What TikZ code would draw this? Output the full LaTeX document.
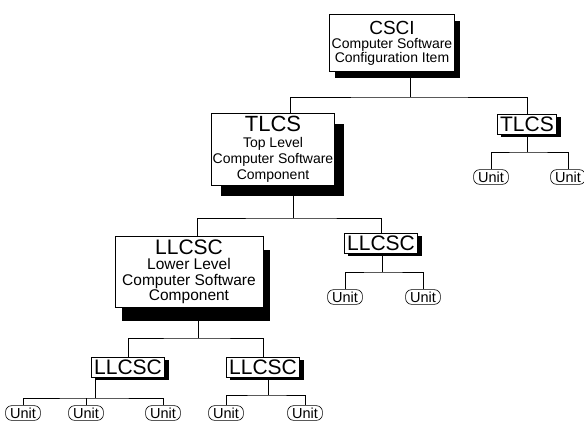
\documentclass[tikz,border=0pt]{standalone}
\usepackage{fontspec}
\setmainfont{Liberation Sans}
\usetikzlibrary{shadows, positioning}

\begin{document}
\begin{tikzpicture}[x=1pt, y=-1pt,
  box/.style={draw, line width=0.8pt, fill=white, align=center, inner sep=1pt},
  shadowed/.style 2 args={drop shadow={shadow xshift=#1, shadow yshift=#2, fill=black, opacity=1}},
  tagbox/.style={box, font=\fontsize{21}{21}\selectfont, inner xsep=3pt, inner ysep=2.5pt, shadowed={4pt}{-3pt}},
  unit/.style={draw, line width=0.6pt, rounded corners=6pt, inner xsep=4.5pt, inner ysep=2pt, font=\fontsize{14.5}{15}\selectfont},
  link/.style={line width=0.7pt}]
  \useasboundingbox (0,0) rectangle (584,426);

  \node[box, shadowed={5pt}{-6pt}, minimum width=125pt, minimum height=57pt, font=\fontsize{14}{14}\selectfont] (csci) at (392,43)
    {{\fontsize{19}{19}\selectfont CSCI}\\Computer Software\\Configuration Item};
  \node[box, shadowed={9pt}{-11pt}, minimum width=123pt, minimum height=72pt, font=\fontsize{14}{16}\selectfont] (tlcsA) at (273,149)
    {{\fontsize{22}{22}\selectfont TLCS}\\Top Level\\Computer Software\\Component};
  \node[tagbox] (tlcsB) at (527,124) {TLCS};
  \node[box, shadowed={7pt}{-13pt}, minimum width=148pt, minimum height=71pt, font=\fontsize{15.5}{15.5}\selectfont] (llcscA) at (189,272)
    {{\fontsize{21}{21}\selectfont LLCSC}\\Lower Level\\Computer Software\\Component};
  \node[tagbox] (llcscB) at (381,243) {LLCSC};
  \node[tagbox] (llcscC) at (128,367) {LLCSC};
  \node[tagbox] (llcscD) at (263,367) {LLCSC};

  \node[unit] (u1) at (491,177) {Unit};
  \node[unit] (u2) at (568,177) {Unit};
  \node[unit] (u3) at (345,297) {Unit};
  \node[unit] (u4) at (423,297) {Unit};
  \node[unit] (u5) at (23,413) {Unit};
  \node[unit] (u6) at (86,413) {Unit};
  \node[unit] (u7) at (163,413) {Unit};
  \node[unit] (u8) at (226,413) {Unit};
  \node[unit] (u9) at (305,413) {Unit};

  \coordinate (j0) at (410,97);
  \coordinate (j1) at (293,218);
  \coordinate (j2) at (527,152);
  \coordinate (j3) at (382,272);
  \coordinate (j4) at (198,338);
  \coordinate (j5) at (95,398);
  \coordinate (j6) at (268,395);

  \draw[link] (csci.south -| j0) -- (j0);
  \draw[link] ([xshift=17pt]tlcsA.north) |- (j0) -| (tlcsB.north);
  \draw[link] (tlcsA.south -| j1) -- (j1);
  \draw[link] ([xshift=8pt]llcscA.north) |- (j1) -| (llcscB.north);
  \draw[link] (tlcsB.south -| j2) -- (j2);
  \draw[link] (u1.north) |- (j2) -| (u2.north);
  \draw[link] (llcscB.south -| j3) -- (j3);
  \draw[link] (u3.north) |- (j3) -| (u4.north);
  \draw[link] (llcscA.south -| j4) -- (j4);
  \draw[link] (llcscC.north) |- (j4) -| (llcscD.north);
  \draw[link] (llcscC.south -| j5) -- (j5);
  \draw[link] (u5.north) |- (j5) -| (u7.north);
  \draw[link] (u6.north) -- (u6.north |- j5);
  \draw[link] (llcscD.south -| j6) -- (j6);
  \draw[link] (u8.north) |- (j6) -| (u9.north);
\end{tikzpicture}
\end{document}
